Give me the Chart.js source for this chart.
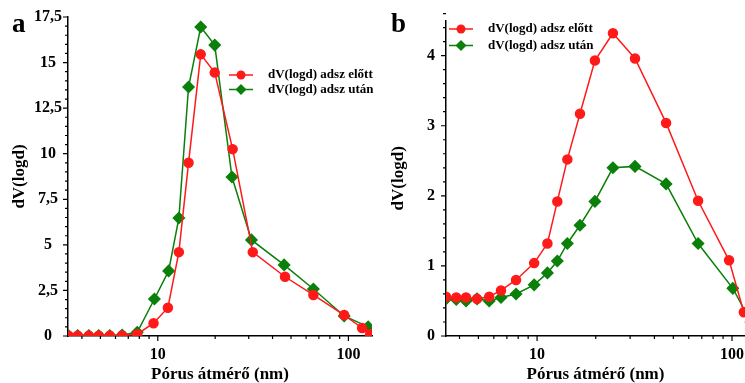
<!DOCTYPE html>
<html>
<head>
<meta charset="utf-8">
<script src="https://cdn.jsdelivr.net/npm/chart.js@4.4.1/dist/chart.umd.min.js"></script>
<style>
  html, body { margin: 0; padding: 0; background: #fff; }
  #wrap { position: relative; width: 745px; height: 383px; overflow: hidden; }
  .panel { position: absolute; top: 0; height: 383px; }
  #pa { left: 0; width: 380px; }
  #pb { left: 375px; width: 370px; }
  .tag { position: absolute; font: bold 27px "Liberation Serif", serif; line-height: 1; }
</style>
</head>
<body>
<div id="wrap">
  <div class="panel" id="pa"><canvas id="chartA"></canvas></div>
  <div class="panel" id="pb"><canvas id="chartB"></canvas></div>
  <div class="tag" style="left:12px; top:10px">a</div>
  <div class="tag" style="left:391px; top:10px">b</div>
</div>
<script>
// panel a
const aPoreBefore = [3.4, 3.8, 4.35, 4.9, 5.6, 6.5, 7.8, 9.5, 11.3, 12.9, 14.5, 16.8, 19.9, 24.7, 31.5, 46.5, 65.5, 95, 118, 130];
const aBefore = [0.02, 0.02, 0.02, 0.02, 0.02, 0.03, 0.1, 0.7, 1.55, 4.6, 9.5, 15.45, 14.45, 10.25, 4.6, 3.25, 2.25, 1.15, 0.44, 0.1];
const aPoreAfter = [3.4, 3.8, 4.35, 4.9, 5.6, 6.5, 7.8, 9.6, 11.4, 12.9, 14.5, 16.8, 19.9, 24.5, 31, 46, 65.5, 95, 127];
const aAfter = [0.03, 0.03, 0.03, 0.03, 0.03, 0.05, 0.2, 2.03, 3.57, 6.47, 13.66, 16.95, 15.96, 8.72, 5.27, 3.9, 2.58, 1.1, 0.5];

// panel b
const bPoreBefore = [3.41, 3.85, 4.32, 4.92, 5.68, 6.53, 7.8, 9.66, 11.3, 12.7, 14.3, 16.6, 19.8, 24.5, 31.8, 45.9, 67, 96.6, 115];
const bBefore = [0.56, 0.55, 0.55, 0.53, 0.56, 0.65, 0.8, 1.04, 1.32, 1.92, 2.52, 3.17, 3.93, 4.32, 3.96, 3.04, 1.93, 1.08, 0.34];
const bPoreAfter = [3.41, 3.85, 4.32, 4.92, 5.68, 6.53, 7.8, 9.66, 11.3, 12.7, 14.3, 16.6, 19.8, 24.5, 31.8, 45.9, 67, 101, 125];
const bAfter = [0.53, 0.52, 0.5, 0.53, 0.5, 0.55, 0.6, 0.73, 0.9, 1.07, 1.32, 1.58, 1.92, 2.4, 2.42, 2.17, 1.32, 0.68, 0.2];

const seriesNames = ["dV(logd) adsz előtt", "dV(logd) adsz után"];
const xTicks = [10, 100];
const yTicksA = [0, 2.5, 5, 7.5, 10, 12.5, 15, 17.5];
const yTicksB = [0, 1, 2, 3, 4];

const RED = "#ff1a1a";
const GREEN = "#0a800a";
const SERIF = '"Liberation Serif", "Times New Roman", serif';

function toPoints(xs, ys) {
  return ys.map((v, i) => ({ x: xs[i], y: v }));
}

// tick marks (major + minor) and the legend box
const decorPlugin = {
  id: "decor",
  afterDraw(chart, args, opts) {
    const ctx = chart.ctx;
    const xs = chart.scales.x, ys = chart.scales.y;
    ctx.save();
    ctx.strokeStyle = "#000";
    ctx.lineWidth = 1.2;
    ctx.beginPath();
    for (let e = 0; e <= 2; e++) {
      for (let m = 1; m <= 9; m++) {
        const v = m * Math.pow(10, e);
        if (v < xs.min || v > xs.max) continue;
        const px = xs.getPixelForValue(v);
        const len = m === 1 ? 5 : 3;
        ctx.moveTo(px, xs.top);
        ctx.lineTo(px, xs.top + len);
      }
    }
    const n = Math.round(ys.max / opts.minorStep);
    const per = Math.round(opts.majorStep / opts.minorStep);
    for (let i = 0; i <= n; i++) {
      const py = ys.getPixelForValue(i * opts.minorStep);
      const len = i % per === 0 ? 5 : 3;
      ctx.moveTo(ys.right, py);
      ctx.lineTo(ys.right - len, py);
    }
    ctx.stroke();

    // legend
    const lg = opts.legend;
    ctx.font = "bold 13px " + SERIF;
    ctx.textBaseline = "middle";
    ctx.textAlign = "left";
    chart.data.datasets.forEach((ds, i) => {
      const y = lg.y + i * lg.gap;
      ctx.strokeStyle = ds.borderColor;
      ctx.lineWidth = 1.5;
      ctx.beginPath();
      ctx.moveTo(lg.x, y);
      ctx.lineTo(lg.x + lg.len, y);
      ctx.stroke();
      const cx = lg.x + lg.len / 2;
      ctx.fillStyle = ds.pointBackgroundColor;
      ctx.beginPath();
      if (ds.pointStyle === "rectRot") {
        const r = ds.pointRadius;
        ctx.moveTo(cx, y - r);
        ctx.lineTo(cx + r, y);
        ctx.lineTo(cx, y + r);
        ctx.lineTo(cx - r, y);
        ctx.closePath();
      } else {
        ctx.arc(cx, y, ds.pointRadius, 0, Math.PI * 2);
      }
      ctx.fill();
      ctx.fillStyle = "#000";
      ctx.fillText(ds.label, lg.textX, y);
    });
    ctx.restore();
  }
};

function makeChart(id, p) {
  return new Chart(document.getElementById(id), {
    type: "line",
    data: {
      datasets: [
        {
          label: seriesNames[0],
          data: toPoints(p.xBefore, p.before),
          borderColor: RED,
          backgroundColor: RED,
          pointBackgroundColor: RED,
          pointBorderColor: RED,
          pointStyle: "circle",
          pointRadius: 4.5,
          borderWidth: 1.5,
          tension: 0,
        },
        {
          label: seriesNames[1],
          data: toPoints(p.xAfter, p.after),
          borderColor: GREEN,
          backgroundColor: GREEN,
          pointBackgroundColor: GREEN,
          pointBorderColor: GREEN,
          pointStyle: "rectRot",
          pointRadius: 5.5,
          borderWidth: 1.5,
          tension: 0,
        },
      ],
    },
    options: {
      responsive: true,
      maintainAspectRatio: false,
      animation: false,
      events: [],
      layout: { autoPadding: false, padding: { top: 17, left: 0, right: p.padRight, bottom: 0 } },
      plugins: {
        legend: { display: false },
        tooltip: { enabled: false },
        decor: { minorStep: p.minorStep, majorStep: p.majorStep, legend: p.legend },
      },
      scales: {
        x: {
          type: "logarithmic",
          min: p.xMin,
          max: p.xMax,
          afterBuildTicks: (s) => { s.ticks = xTicks.map((v) => ({ value: v })); },
          afterFit: (s) => {
            s.height = 47;
            s.paddingLeft = 0;
            s.paddingRight = 0;
          },
          ticks: {
            autoSkip: false,
            maxRotation: 0,
            padding: 9,
            color: "#000",
            font: { family: SERIF, size: 16, weight: "bold" },
            callback: (v) => String(v),
          },
          grid: { display: false, drawTicks: false },
          border: { display: true, color: "#000", width: 1.5 },
          title: {
            display: true,
            text: "Pórus átmérő (nm)",
            color: "#000",
            font: { family: SERIF, size: 17, weight: "bold", lineHeight: 1 },
            padding: { top: 0, bottom: 0 },
          },
        },
        y: {
          min: 0,
          max: p.yMax,
          afterBuildTicks: (s) => { s.ticks = p.yTicks.map((v) => ({ value: v })); },
          afterFit: (s) => { s.width = p.yWidth; },
          ticks: {
            crossAlign: "center",
            padding: p.yPad,
            color: "#000",
            font: { family: SERIF, size: 16, weight: "bold" },
            callback: (v) => String(v).replace(".", ","),
          },
          grid: { display: false, drawTicks: false },
          border: { display: true, color: "#000", width: 1.5 },
          title: {
            display: true,
            text: "dV(logd)",
            color: "#000",
            font: { family: SERIF, size: 17, weight: "bold", lineHeight: 1.2 },
            padding: { top: p.yTitlePad, bottom: 0 },
          },
        },
      },
    },
    plugins: [decorPlugin],
  });
}

makeChart("chartA", {
  xBefore: aPoreBefore, before: aBefore, xAfter: aPoreAfter, after: aAfter,
  xMin: 3.38, xMax: 133, yMax: 17.5, yTicks: yTicksA,
  minorStep: 0.5, majorStep: 2.5,
  yWidth: 68, yPad: 6, yTitlePad: 9, padRight: 8,
  legend: { x: 229, len: 24, y: 75, gap: 14.5, textX: 268 },
});

makeChart("chartB", {
  xBefore: bPoreBefore, before: bBefore, xAfter: bPoreAfter, after: bAfter,
  xMin: 3.41, xMax: 116.6, yMax: 4.5, yTicks: yTicksB,
  minorStep: 0.2, majorStep: 1,
  yWidth: 71, yPad: 11, yTitlePad: 13, padRight: 0,
  legend: { x: 74, len: 24, y: 29, gap: 16.5, textX: 113 },
});
</script>
</body>
</html>
